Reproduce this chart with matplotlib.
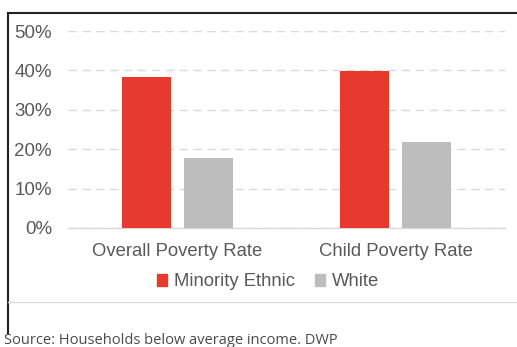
import matplotlib
matplotlib.use("Agg")
import matplotlib.pyplot as plt
from matplotlib.lines import Line2D
from matplotlib.patches import Patch
import numpy as np

categories = ["Overall Poverty Rate", "Child Poverty Rate"]
series_names = ["Minority Ethnic", "White"]
minority = [0.383, 0.398]
white = [0.178, 0.219]
yticks = [0, 0.1, 0.2, 0.3, 0.4, 0.5]
ytick_labels = ["0%", "10%", "20%", "30%", "40%", "50%"]
source_text = "Source: Households below average income. DWP"

RED = "#E8392F"
GRAY = "#BDBDBD"
TXT = "#595959"

plt.rcParams['font.family'] = ['Liberation Sans', 'DejaVu Sans']

fig = plt.figure(figsize=(5.17, 3.47), dpi=100)
ax = fig.add_axes([68/517, 1-228/347, (505-68)/517, (228-31)/347])

x = np.arange(len(categories))
w = 0.224
off = 0.142
ax.bar(x - off, minority, width=w, color=RED, zorder=3, label=series_names[0])
ax.bar(x + off, white, width=w, color=GRAY, zorder=3, label=series_names[1])

ax.set_xlim(-0.5, 1.5)
ax.set_ylim(0, 0.5)
ax.set_yticks(yticks)
ax.set_yticklabels(ytick_labels)
ax.set_xticks(x)
ax.set_xticklabels(categories)
ax.tick_params(axis='y', length=0, pad=11.5, labelsize=13.5, labelcolor=TXT)
ax.tick_params(axis='x', length=0, pad=11, labelsize=13.3, labelcolor=TXT)
for s in ["top", "right", "left"]:
    ax.spines[s].set_visible(False)
ax.spines["bottom"].set_color("#D9D9D9")
ax.spines["bottom"].set_linewidth(1)
ax.yaxis.grid(True, linestyle=(0, (6, 4)), color="#D9D9D9", linewidth=1, zorder=0)
ax.set_axisbelow(True)
ax.set_facecolor("none")

handles = [Patch(color=RED), Patch(color=GRAY)]
fig.legend(handles, series_names, loc="center", bbox_to_anchor=(268/517, 1-282/347),
           ncol=2, frameon=False, fontsize=13.3, handlelength=0.55, handleheight=0.55,
           handletextpad=0.35, columnspacing=1.1, labelcolor=TXT)

# frame lines
fig.add_artist(Line2D([8/517, 1], [1-13/347, 1-13/347], color="#222222", lw=1.5))
fig.add_artist(Line2D([8/517, 8/517], [1-333/347, 1-13/347], color="#222222", lw=1.5))
fig.add_artist(Line2D([8/517, 1], [1-302/347, 1-302/347], color="#DDDDDD", lw=1))

fig.text(4/517, 1-341/347, source_text, fontsize=10.5, color="#4a4a4a",
         family=['Open Sans', 'DejaVu Sans'], va="center", ha="left")

fig.savefig("out.png", dpi=100)
